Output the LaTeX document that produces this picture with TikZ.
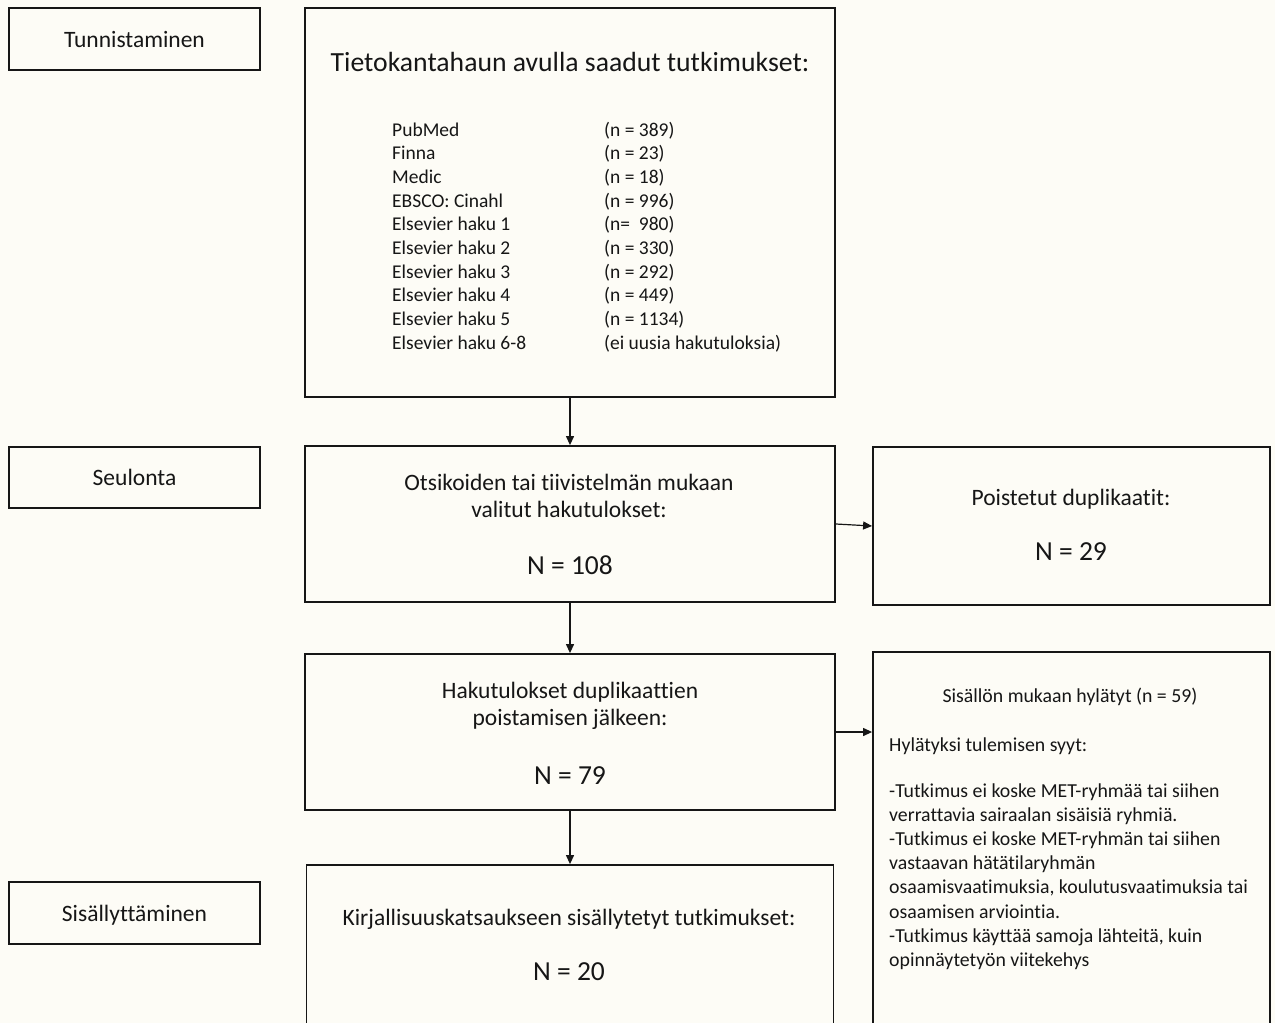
\documentclass[tikz,border=0pt]{standalone}
\usepackage{fontspec}
\setmainfont{Carlito}[Ligatures={TeX,NoCommon}]
\usetikzlibrary{arrows.meta}
\definecolor{bg}{RGB}{253,252,246}
\definecolor{ink}{RGB}{22,22,22}
\begin{document}
\begin{tikzpicture}[x=1pt,y=-1pt,
  box/.style={draw=ink, line width=1.8pt, inner sep=0pt},
  arr/.style={draw=ink, line width=1.2pt, -{Triangle[length=9pt,width=8pt]}},
  txt/.style={text=ink, inner sep=0pt},
  ftitle/.style={font=\fontsize{27.7}{33}\selectfont},
  flist/.style={font=\fontsize{19.5}{23}\selectfont},
  fbox/.style={font=\fontsize{23.5}{28}\selectfont},
  fbig/.style={font=\fontsize{27.5}{33}\selectfont},
  fsmall/.style={font=\fontsize{19.8}{24}\selectfont},
  fside/.style={font=\fontsize{23.5}{28}\selectfont}]
\useasboundingbox (0,0) rectangle (1275,1023);
\fill[bg] (0,0) rectangle (1275,1023);
\clip (0,0) rectangle (1275,1023);

% left stage labels
\node[box, minimum width=251, minimum height=62] (s1) at (134.5,39) {};
\node[txt, fside, anchor=base] (s1t) at (134.5,47.5) {Tunnistaminen};
\node[box, minimum width=251, minimum height=61] (s2) at (134.5,477.5) {};
\node[txt, fside, anchor=base] (s2t) at (134.5,485.5) {Seulonta};
\node[box, minimum width=251, minimum height=62] (s3) at (134.5,913) {};
\node[txt, fside, anchor=base] (s3t) at (134.5,921.5) {Sisällyttäminen};

% main boxes
\node[box, minimum width=530, minimum height=389] (b1) at (570,202.5) {};
\node[box, minimum width=530, minimum height=156] (b2) at (570,524) {};
\node[box, minimum width=530, minimum height=156] (b3) at (570,732) {};
\node[box, minimum width=527, minimum height=180] (b4) at (570,955) {};
\node[box, minimum width=397, minimum height=158] (r1) at (1071.5,526) {};
\node[box, minimum width=397, minimum height=390] (r2) at (1071.5,847) {};

% box 1 text
\node[txt, ftitle, anchor=base] (b1t) at (570,71) {Tietokantahaun avulla saadut tutkimukset:};
\foreach \nm/\val [count=\i] in {PubMed/(n = 389), Finna/(n = 23), Medic/(n = 18),
  EBSCO: Cinahl/(n = 996), Elsevier haku 1/(n=\ \ 980), Elsevier haku 2/(n = 330),
  Elsevier haku 3/(n = 292), Elsevier haku 4/(n = 449), Elsevier haku 5/(n = 1134),
  Elsevier haku 6-8/(ei uusia hakutuloksia)} {
  \node[txt, flist, anchor=base west] (ln\i) at (392,{136+23.7*(\i-1)}) {\nm};
  \node[txt, flist, anchor=base west] (lv\i) at (604,{136+23.7*(\i-1)}) {\val};
}

% box 2 text
\node[txt, fbox, anchor=base] (b2a) at (569,490) {Otsikoiden tai tiivistelmän mukaan};
\node[txt, fbox, anchor=base] (b2b) at (569,517) {valitut hakutulokset:};
\node[txt, fbig, anchor=base] (b2c) at (570,574) {N = 108};

% box 3 text
\node[txt, fbox, anchor=base] (b3a) at (570,698) {Hakutulokset duplikaattien};
\node[txt, fbox, anchor=base] (b3b) at (570,725) {poistamisen jälkeen:};
\node[txt, fbig, anchor=base] (b3c) at (570,784) {N = 79};

% box 4 text
\node[txt, fbox, anchor=base] (b4a) at (569,925) {Kirjallisuuskatsaukseen sisällytetyt tutkimukset:};
\node[txt, fbig, anchor=base] (b4b) at (569,980) {N = 20};

% right box 1 text
\node[txt, fbox, anchor=base] (r1a) at (1071,505) {Poistetut duplikaatit:};
\node[txt, fbig, anchor=base] (r1b) at (1071,560) {N = 29};

% right box 2 text
\node[txt, fsmall, anchor=base] (r2a) at (1070,702) {Sisällön mukaan hylätyt (n = 59)};
\node[txt, fsmall, anchor=base west] (r2b) at (889,751) {Hylätyksi tulemisen syyt:};
\foreach \ln [count=\i] in {-Tutkimus ei koske MET-ryhmää tai siihen,
  verrattavia sairaalan sisäisiä ryhmiä.,
  -Tutkimus ei koske MET-ryhmän tai siihen,
  vastaavan hätätilaryhmän,
  {osaamisvaatimuksia, koulutusvaatimuksia tai},
  osaamisen arviointia.,
  {-Tutkimus käyttää samoja lähteitä, kuin},
  opinnäytetyön viitekehys} {
  \node[txt, fsmall, anchor=base west] (rs\i) at (889,{797+24.2*(\i-1)}) {\ln};
}

% connectors
\draw[arr] (b1.south) -- (b2.north);
\draw[arr] (b2.south) -- (b3.north);
\draw[arr] (b3.south) -- (b4.north);
\draw[arr] (b2.east) -- (r1.west);
\draw[arr] (b3.east) -- (b3.east -| r2.west);
\end{tikzpicture}
\end{document}
